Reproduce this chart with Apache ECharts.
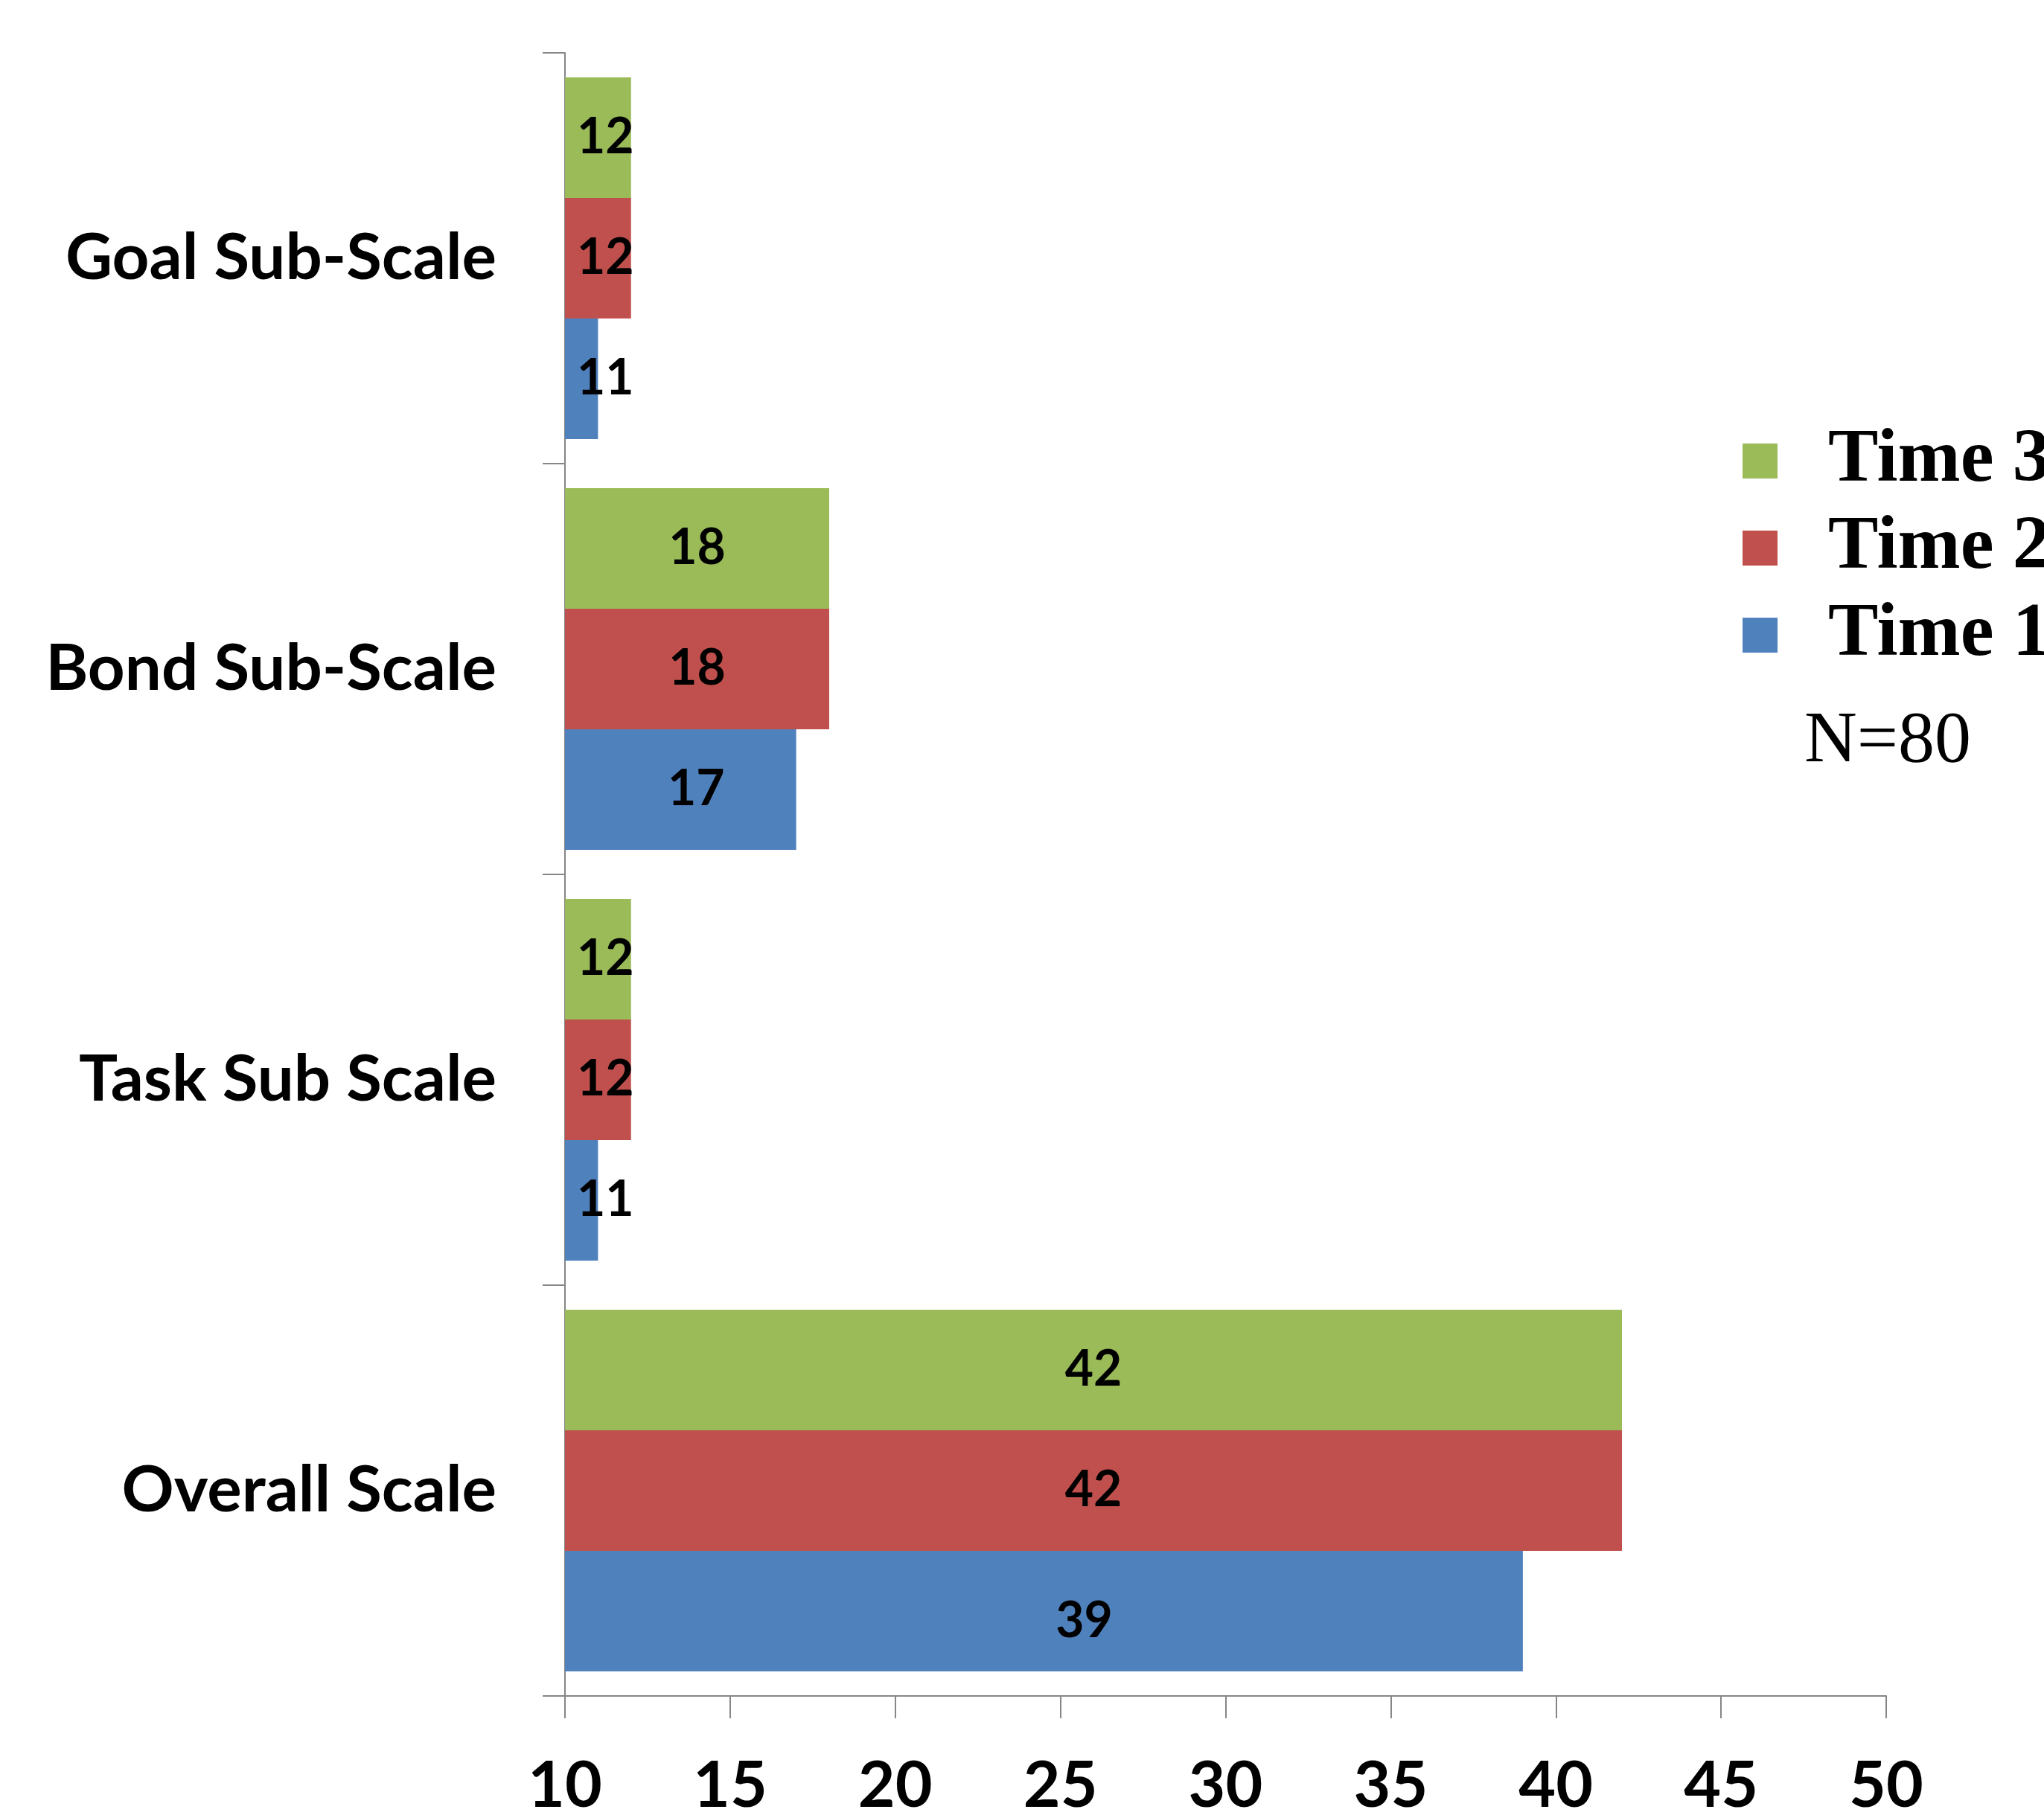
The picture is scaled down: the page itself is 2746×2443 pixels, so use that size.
<!DOCTYPE html>
<html>
<head>
<meta charset="utf-8">
<script src="https://cdn.jsdelivr.net/npm/echarts@6/dist/echarts.min.js"></script>
<style>
html, body { margin: 0; padding: 0; background: #fff; }
#chart { width: 2746px; height: 2443px; }
</style>
</head>
<body>
<div id="chart"></div>
<script>
// categories, bottom to top (ECharts draws category axis from the bottom)
var categories = ['Overall Scale', 'Task Sub Scale', 'Bond Sub-Scale', 'Goal Sub-Scale'];
var time1 = [39, 11, 17, 11];
var time2 = [42, 12, 18, 12];
var time3 = [42, 12, 18, 12];
var xTicks = { min: 10, max: 50, interval: 5 };
var legendOrder = ['Time 3', 'Time 2', 'Time 1'];
var noteText = 'N=80';

// a few labels in the original were dragged off centre (px, per category)
var time1LabelShift = [[54, 14], null, [21, 0], null];

var axisGray = '#868686';

// narrow bars get their label pushed off the axis, like the original
function wrap(values, shifts) {
	return values.map(function(v, i) {
		if (v < 15) {
			return { value: v, label: { position: 'insideLeft', distance: 16 } };
		}
		if (shifts && shifts[i]) {
			return { value: v, label: { offset: shifts[i] } };
		}
		return v;
	});
}

function makeSeries(name, values, color, shifts) {
	return {
		name: name,
		type: 'bar',
		data: wrap(values, shifts),
		barGap: '0%',
		barCategoryGap: '12%',
		itemStyle: { color: color },
		label: {
			show: true,
			position: 'inside',
			color: '#000',
			fontFamily: 'Lato',
			fontWeight: 'bold',
			fontSize: 66
		}
	};
}

var myChart = echarts.init(document.getElementById('chart'));

var option = {
	animation: false,
	backgroundColor: '#fff',
	grid: { left: 759, right: 212, top: 71, bottom: 156, containLabel: false },
	legend: {
		data: legendOrder,
		orient: 'vertical',
		left: 2336,
		top: 556,
		itemWidth: 47,
		itemHeight: 47,
		itemGap: 0,
		icon: 'rect',
		textStyle: {
			fontFamily: 'Liberation Serif',
			fontWeight: 'bold',
			fontSize: 101,
			color: '#000',
			lineHeight: 117,
			padding: [0, 0, 0, 63]
		}
	},
	xAxis: {
		type: 'value',
		min: xTicks.min,
		max: xTicks.max,
		interval: xTicks.interval,
		axisLine: { show: true, lineStyle: { color: axisGray, width: 2 } },
		axisTick: { show: true, length: 30, lineStyle: { color: axisGray, width: 2 } },
		splitLine: { show: false },
		axisLabel: {
			margin: 78,
			color: '#000',
			fontFamily: 'Lato',
			fontWeight: 'bold',
			fontSize: 86
		}
	},
	yAxis: {
		type: 'category',
		data: categories,
		axisLine: { show: true, lineStyle: { color: axisGray, width: 2 } },
		axisTick: { show: true, length: 30, lineStyle: { color: axisGray, width: 2 } },
		axisLabel: {
			margin: 92,
			color: '#000',
			fontFamily: 'Lato',
			fontWeight: 'bold',
			fontSize: 87
		}
	},
	graphic: [{
		type: 'text',
		left: 2424,
		top: 948,
		style: {
			text: noteText,
			fontFamily: 'Liberation Serif',
			fontSize: 98,
			fill: '#000'
		}
	}],
	// first series sits at the top of each category band
	series: [
		makeSeries('Time 3', time3, '#9BBB59'),
		makeSeries('Time 2', time2, '#C0504D'),
		makeSeries('Time 1', time1, '#4F81BD', time1LabelShift)
	]
};

myChart.setOption(option);
</script>
</body>
</html>
